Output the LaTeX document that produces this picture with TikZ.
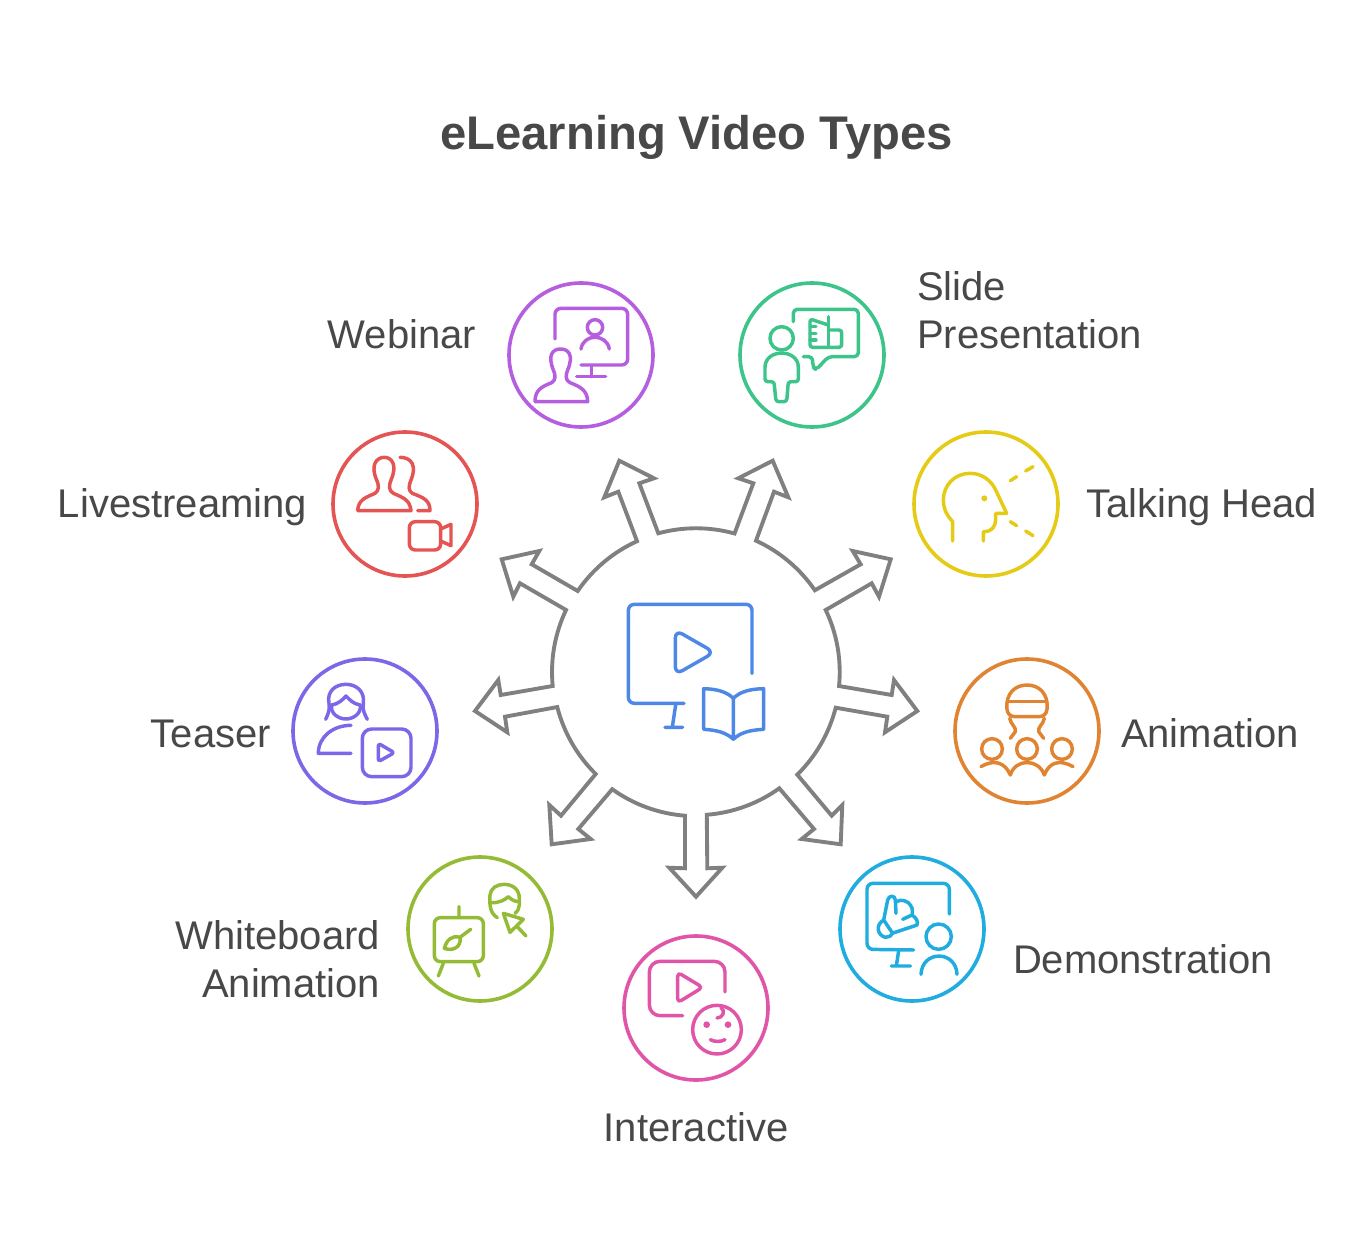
\documentclass[tikz,border=0pt]{standalone}
\usepackage{fontspec}
\setmainfont{Liberation Sans}
\definecolor{txt}{HTML}{484848}
\definecolor{greyc}{HTML}{808080}
\definecolor{cblue}{HTML}{4E88E7}
\definecolor{cpurple}{HTML}{B55FE0}
\definecolor{cgreen}{HTML}{3DC48A}
\definecolor{cred}{HTML}{E55353}
\definecolor{cyellow}{HTML}{E5CB15}
\definecolor{cviolet}{HTML}{7B68E8}
\definecolor{corange}{HTML}{E08432}
\definecolor{clime}{HTML}{94BB35}
\definecolor{cpink}{HTML}{E155A9}
\definecolor{ccyan}{HTML}{1FACDE}
\tikzset{
  lbl/.style={inner sep=0pt,outer sep=0pt,text=txt,font=\fontsize{30}{36}\selectfont},
  ttl/.style={inner sep=0pt,outer sep=0pt,text=txt,font=\bfseries\fontsize{35.4}{42}\selectfont},
  ring/.style={circle,draw=#1,line width=2.7pt,minimum size=108pt,inner sep=0pt,outer sep=0pt},
  ico/.style={draw=#1,line width=2.6pt,line cap=round,line join=round},
  rc/.style={rounded corners=4.5pt},
  hub/.style={draw=greyc,line width=2.9pt,line join=miter,miter limit=10}
}
\newcommand{\harc}[2]{arc[start angle=#1,end angle=#2,radius=144]}
\begin{document}
\begin{tikzpicture}[x=0.75pt,y=-0.75pt]
\path[use as bounding box,fill=white] (0,0) rectangle (1368,1248);
% title
\node[ttl,anchor=base] (title) at (696.5,150) {eLearning Video Types};
% hub outline
\draw[hub] (658.3,533.3) \harc{-105.2}{-74.5}
 -- (753.3,483.3) -- (738.3,478.3) -- (772.7,460.7) -- (788.3,497.3) -- (774,491.7) -- (756,540.7)
 \harc{-65.4}{-34.4}
 -- (860.7,564.3) -- (852.7,551) -- (890.7,559.3) -- (879,596.7) -- (871.7,583.3) -- (825.7,610)
 \harc{-25.5}{5.6}
 -- (891.7,695) -- (894,680) -- (917.3,711) -- (885,732.3) -- (887.3,716.7) -- (835.7,707.7)
 \harc{14.3}{45.4}
 -- (831.7,815.7) -- (842.3,805) -- (840.7,844.3) -- (801.7,839) -- (814,829) -- (779.3,788.3)
 \harc{54.4}{85.5}
 -- (707.3,868.3) -- (722.3,867.7) -- (696,896.7) -- (669.3,867.7) -- (685,868.3) -- (685,815.7)
 \harc{94.4}{125.6}
 -- (578.3,829) -- (590.7,839) -- (551.7,844.3) -- (549.3,805) -- (561,815.7) -- (595.7,774)
 \harc{134.6}{165.7}
 -- (505,716.7) -- (507.3,732.3) -- (475,711) -- (498.3,680) -- (500.7,695) -- (552.7,686)
 \harc{174.4}{205.5}
 -- (520,583.3) -- (513.3,596.7) -- (501.7,559.3) -- (539.3,551) -- (531.7,564.3) -- (577.7,591)
 \harc{214.4}{245.6}
 -- (618.3,491.7) -- (604.3,497.3) -- (619.3,460.7) -- (654,478.3) -- (639.3,483.3) -- cycle;
% central icon
\begin{scope}[shift={(470,450)},scale=1/3]
\draw[ico=cblue,rc] (846,670) -- (846,463) -- (475,463) -- (475,760) -- (642,760);
\draw[ico=cblue] (617,765) -- (607,831) (585,832) -- (638,832);
\draw[ico=cblue,rounded corners=6pt] (616,540) -- (733,607) -- (616,674) -- cycle;
\draw[ico=cblue] (790,745) .. controls (770,725) and (740,717) .. (701,716) -- (701,838) .. controls (740,840) and (770,848) .. (790,868) .. controls (810,848) and (840,840) .. (881,838) -- (881,716) .. controls (840,717) and (810,725) .. (790,745) -- (790,868);
\end{scope}
% webinar
\node[ring=cpurple] (webinar) at (581,355) {};
\node[lbl,anchor=base east] (webinarL) at (476,349) {Webinar};
\begin{scope}[shift={(500,275)},scale=1/3]
\draw[ico=cpurple,rc] (165,192) -- (165,100) -- (383,100) -- (383,270) -- (243,270);
\draw[ico=cpurple] (275,273) -- (275,305) (230,305) -- (317,305);
\draw[ico=cpurple] (285,157) circle (23);
\draw[ico=cpurple] (243,222) .. controls (250,175) and (320,175) .. (328,222);
\draw[ico=cpurple] (105,380) -- (263,380) .. controls (262,345) and (240,335) .. (210,323) .. controls (195,315) and (197,300) .. (203,285) .. controls (222,240) and (205,222) .. (182,222) .. controls (158,222) and (142,240) .. (160,285) .. controls (167,300) and (168,315) .. (155,323) .. controls (125,335) and (105,345) .. (105,380);
\end{scope}
% slide
\node[ring=cgreen] (slide) at (812,355) {};
\node[lbl,anchor=base west,align=left] (slideL) at (917,349) {Slide\\Presentation};
\begin{scope}[shift={(500,275)},scale=1/3]
\draw[ico=cgreen] (845,190) circle (35);
\draw[ico=cgreen,rounded corners=2pt] (795,320) -- (795,285) .. controls (795,220) and (895,220) .. (895,285) -- (895,320) -- (865,320) -- (860,380) -- (828,380) -- (822,320) -- cycle;
\draw[ico=cgreen,rounded corners=3pt] (880,140) -- (880,103) -- (1075,103) -- (1075,245) -- (985,245) -- (948,285) -- (938,275) -- (938,245) -- (910,245);
\draw[ico=cgreen,rounded corners=2pt] (985,165) -- (1025,165) -- (1025,217) -- (930,217) -- (930,132) -- (985,150);
\draw[ico=cgreen] (985,125) -- (985,217) (930,155) -- (948,155) (930,175) -- (948,175) (930,195) -- (948,195);
\end{scope}
% livestreaming
\node[ring=cred] (live) at (405,504) {};
\node[lbl,anchor=base east] (liveL) at (307,517) {Livestreaming};
\begin{scope}[shift={(325,425)},scale=1/3]
\draw[ico=cred] (98,257) -- (258,257) .. controls (255,225) and (235,218) .. (205,205) .. controls (190,197) and (192,180) .. (198,165) .. controls (218,120) and (200,97) .. (178,97) .. controls (155,97) and (135,120) .. (155,165) .. controls (162,180) and (163,197) .. (150,205) .. controls (120,218) and (100,225) .. (98,257);
\draw[ico=cred] (225,97) .. controls (262,97) and (275,125) .. (258,165) .. controls (250,185) and (250,197) .. (262,205) .. controls (295,218) and (315,225) .. (315,257) -- (278,257);
\draw[ico=cred,rc] (253,290) rectangle (347,375);
\draw[ico=cred] (347,312) -- (378,298) -- (378,362) -- (347,348);
\end{scope}
% talking head
\node[ring=cyellow] (talk) at (986,504) {};
\node[lbl,anchor=base west] (talkL) at (1086,517) {Talking Head};
\begin{scope}[shift={(905,425)},scale=1/3]
\draw[ico=cyellow] (143,348) -- (143,290) .. controls (120,265) and (115,245) .. (115,225) .. controls (115,180) and (150,145) .. (195,145) .. controls (230,145) and (258,165) .. (272,195) -- (305,265) -- (272,265) -- (272,285) .. controls (272,305) and (258,320) .. (240,320) -- (235,320) -- (235,348);
\fill[cyellow] (238,220) circle (9);
\draw[ico=cyellow] (316,167) -- (335,155) (362,138) -- (384,125) (316,290) -- (335,302) (362,318) -- (384,332);
\end{scope}
% animation
\node[ring=corange] (anim) at (1027,731) {};
\node[lbl,anchor=base west] (animL) at (1121,747) {Animation};
\begin{scope}[shift={(947,650)},scale=1/3]
\draw[ico=corange] (180,178) .. controls (175,130) and (205,105) .. (240,105) .. controls (275,105) and (305,130) .. (300,178) .. controls (298,192) and (290,200) .. (275,200) -- (205,200) .. controls (190,200) and (182,192) .. (180,178) -- cycle;
\draw[ico=corange] (180,155) -- (300,155);
\draw[ico=corange] (188,205) .. controls (192,225) and (208,230) .. (205,245) .. controls (203,255) and (192,255) .. (190,265);
\draw[ico=corange] (292,205) .. controls (288,225) and (272,230) .. (275,245) .. controls (277,255) and (288,255) .. (290,265);
\draw[ico=corange] (135,297) circle (31) (240,297) circle (31) (345,297) circle (31);
\draw[ico=corange] (102,350) .. controls (145,325) and (175,340) .. (190,375) .. controls (205,325) and (275,325) .. (292,375) .. controls (305,340) and (335,325) .. (378,350);
\end{scope}
% teaser
\node[ring=cviolet] (teaser) at (365,731) {};
\node[lbl,anchor=base east] (teaserL) at (271,747) {Teaser};
\begin{scope}[shift={(285,650)},scale=1/3]
\draw[ico=cviolet] (122,208) .. controls (130,190) and (135,180) .. (132,160) .. controls (125,125) and (150,103) .. (183,103) .. controls (215,103) and (240,125) .. (235,160) .. controls (232,180) and (238,190) .. (247,208);
\draw[ico=cviolet] (140,165) .. controls (135,190) and (160,207) .. (183,207) .. controls (205,207) and (230,190) .. (226,165) .. controls (205,162) and (195,150) .. (183,138) .. controls (172,150) and (160,162) .. (140,165);
\draw[ico=cviolet] (198,226) .. controls (145,226) and (100,260) .. (100,310) -- (198,310);
\draw[ico=cviolet,rounded corners=7pt] (232,237) rectangle (378,380);
\draw[ico=cviolet,rounded corners=2pt] (280,280) -- (328,308) -- (280,335) -- cycle;
\end{scope}
% whiteboard
\node[ring=clime] (white) at (480,929) {};
\node[lbl,anchor=base east,align=right] (whiteL) at (380,997) {Whiteboard\\Animation};
\begin{scope}[shift={(400,850)},scale=1/3]
\draw[ico=clime,rc] (103,203) rectangle (250,335);
\draw[ico=clime] (177,170) -- (177,203) (130,340) -- (115,378) (222,340) -- (237,378);
\draw[ico=clime] (212,238) -- (180,262);
\draw[ico=clime] (180,262) .. controls (155,255) and (140,270) .. (133,295) .. controls (160,305) and (185,290) .. (180,262);
\draw[ico=clime] (292,203) .. controls (270,190) and (268,165) .. (270,135) .. controls (272,115) and (290,103) .. (312,103) .. controls (340,103) and (358,120) .. (358,145) -- (358,165) .. controls (358,175) and (352,185) .. (345,190);
\draw[ico=clime] (272,158) .. controls (295,160) and (315,150) .. (325,140) .. controls (335,150) and (345,155) .. (358,155);
\draw[ico=clime] (310,190) -- (370,208) -- (330,247) -- cycle (350,228) -- (378,258);
\end{scope}
% interactive
\node[ring=cpink] (inter) at (696,1008) {};
\node[lbl,anchor=base] (interL) at (696,1141) {Interactive};
\begin{scope}[shift={(616,928)},scale=1/3]
\draw[ico=cpink,rounded corners=8pt] (327,192) -- (327,100) -- (100,100) -- (100,263) -- (200,263);
\draw[ico=cpink,rounded corners=3pt] (185,133) -- (260,178) -- (185,224) -- cycle;
\draw[ico=cpink] (303,305) circle (73);
\draw[ico=cpink] (315,238) .. controls (330,250) and (320,270) .. (303,270);
\fill[cpink] (272,290) circle (10) (336,290) circle (10);
\draw[ico=cpink] (283,335) .. controls (295,342) and (315,342) .. (327,335);
\end{scope}
% demonstration
\node[ring=ccyan] (demo) at (912,929) {};
\node[lbl,anchor=base west] (demoL) at (1013,973) {Demonstration};
\begin{scope}[shift={(832,850)},scale=1/3]
\draw[ico=ccyan,rc] (352,192) -- (352,100) -- (105,100) -- (105,298) -- (245,300);
\draw[ico=ccyan] (200,302) -- (193,348) (178,348) -- (235,348);
\draw[ico=ccyan] (320,260) circle (38);
\draw[ico=ccyan] (267,373) .. controls (270,300) and (372,300) .. (375,373);
\draw[ico=ccyan] (155,210) -- (167,150) .. controls (170,135) and (190,135) .. (190,150) -- (192,190) (192,155) .. controls (210,145) and (230,155) .. (235,165) .. controls (245,175) and (240,195) .. (240,195) -- (212,208) (240,195) .. controls (255,205) and (258,215) .. (255,225) -- (180,250) (155,210) .. controls (130,225) and (135,255) .. (160,262) .. controls (170,262) and (178,258) .. (182,250) -- (155,210);
\end{scope}
\end{tikzpicture}
\end{document}
